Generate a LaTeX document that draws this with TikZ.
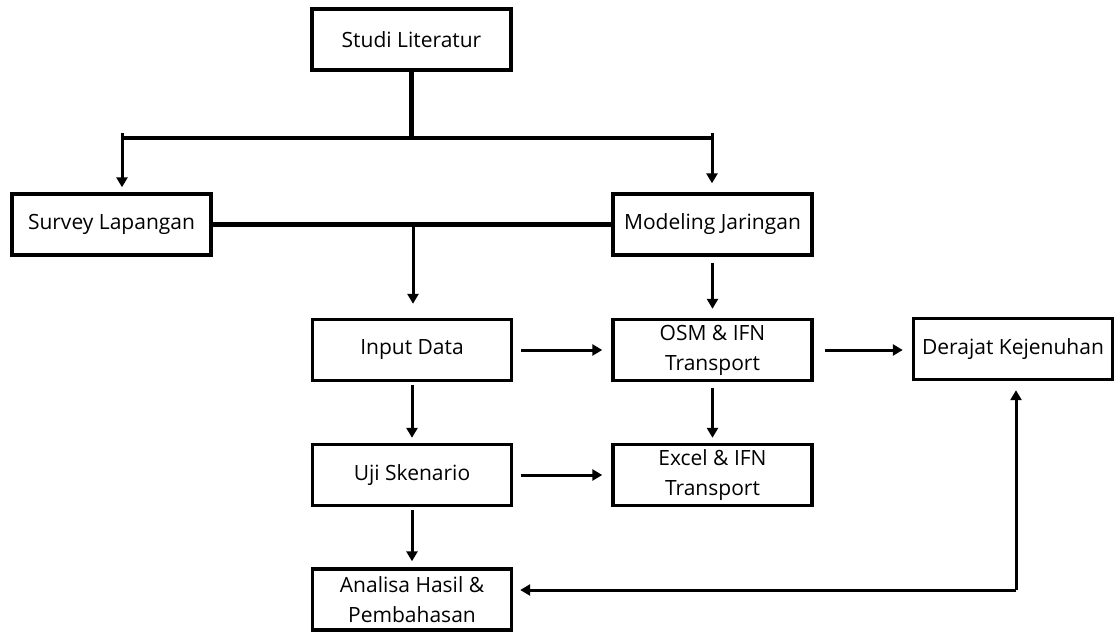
\documentclass[tikz,border=0pt]{standalone}
\usepackage{fontspec}
\setmainfont{Open Sans}
\usetikzlibrary{arrows.meta}
\begin{document}
\begin{tikzpicture}[x=1pt, y=-1pt]
\tikzset{kotak/.style={draw, line width=3.4pt, minimum width=199pt, minimum height=61pt, inner sep=0pt, align=center, font=\fontsize{21}{30}\selectfont}}
\tikzset{panah/.style={line width=3pt, -{Triangle[length=10pt, width=11pt]}}}
\tikzset{garis/.style={line width=4.5pt}}
\useasboundingbox (0, 0) rectangle (1114, 632);
\node[kotak] (studi) at (411.5, 39.5) {Studi Literatur};
\node[kotak] (survey) at (111.5, 224.5) {Survey Lapangan};
\node[kotak] (model) at (712.5, 224.5) {Modeling Jaringan};
\node[kotak] (input) at (412, 350) {Input Data};
\node[kotak] (osm) at (712.5, 350) {OSM \& IFN\\Transport};
\node[kotak] (derajat) at (1013, 349) {Derajat Kejenuhan};
\node[kotak] (uji) at (412, 475) {Uji Skenario};
\node[kotak] (excel) at (712.5, 475) {Excel \& IFN\\Transport};
\node[kotak] (analisa) at (412, 599.5) {Analisa Hasil \&\\Pembahasan};
\coordinate (cabang) at (409, 138);
\coordinate (kiri) at (122, 133);
\coordinate (kanan) at (712, 133);
\coordinate (tengah) at (413, 223);
\coordinate (sudut) at (1016, 590);
\draw[line width=5.5pt] (studi.south) -- (studi.south |- cabang);
\draw[garis] (kiri |- cabang) -- (kanan |- cabang);
\draw[panah, shorten >=5pt] (kiri) -- (kiri |- survey.north);
\draw[panah, shorten >=9pt] (kanan) -- (kanan |- model.north);
\draw[garis] (survey.east) -- (model.west);
\draw[panah, shorten >=14pt] (tengah) -- (tengah |- input.north);
\draw[panah, shorten <=6pt, shorten >=9pt] (model.south) -- (osm.north);
\draw[panah, shorten <=8pt, shorten >=9pt] (input.east) -- (osm.west);
\draw[panah, shorten <=11pt, shorten >=9pt] (osm.east) -- (osm.east -| derajat.west);
\draw[panah, shorten <=3pt, shorten >=5pt] (input.south) -- (uji.north);
\draw[panah, shorten <=6pt, shorten >=5pt] (osm.south) -- (excel.north);
\draw[panah, shorten <=8pt, shorten >=9pt] (uji.east) -- (excel.west);
\draw[panah, shorten <=3pt, shorten >=6pt] (uji.south) -- (analisa.north);
\draw[panah, shorten >=7pt] (sudut) -- (sudut -| analisa.east);
\draw[panah, shorten >=9pt] (sudut) -- (sudut |- derajat.south);
\end{tikzpicture}
\end{document}
